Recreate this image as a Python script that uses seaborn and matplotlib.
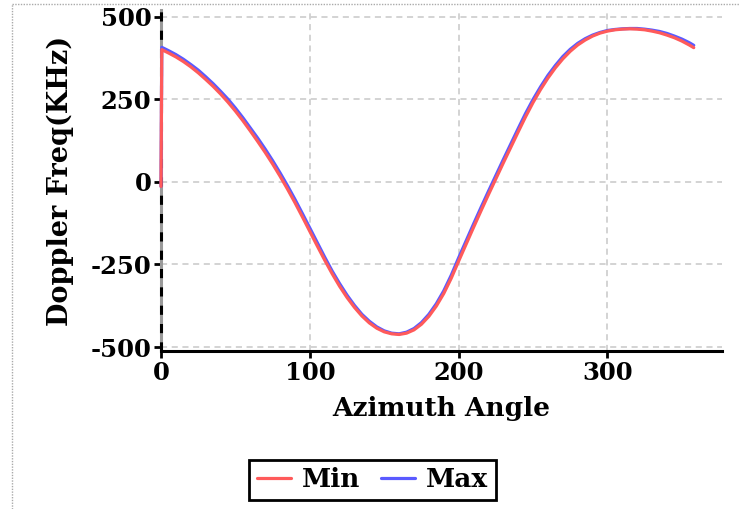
import pandas as pd
import matplotlib
matplotlib.use("Agg")
import matplotlib.pyplot as plt
import seaborn as sns
from matplotlib.lines import Line2D

# azimuth angle (deg) and doppler frequency (KHz)
azimuth = [0, 0.5, 5, 10, 15, 20, 25, 30, 35, 40, 45, 50, 55, 60, 65, 70, 75, 80,
           85, 90, 95, 100, 105, 110, 115, 120, 125, 130, 135, 140, 145, 150, 155,
           160, 165, 170, 175, 180, 185, 190, 195, 200, 205, 210, 215, 220, 225,
           230, 235, 240, 245, 250, 255, 260, 265, 270, 275, 280, 285, 290, 295,
           300, 305, 310, 315, 320, 325, 330, 335, 340, 345, 350, 355, 358]
freq_min = [-14, 400, 390, 378, 364, 348, 330, 310, 289, 266, 241, 214, 185, 154,
            122, 89, 54, 17, -22, -63, -106, -150, -194, -237, -278, -316, -350,
            -380, -406, -427, -443, -454, -460, -462, -458, -448, -431, -407, -376,
            -338, -292, -240, -189, -138, -88, -39, 9, 57, 104, 151, 197, 240, 279,
            314, 345, 372, 395, 414, 429, 441, 450, 456, 460, 462, 463, 462, 460,
            456, 451, 444, 436, 426, 414, 406]
freq_max = [-14, 407, 397, 385, 371, 355, 338, 318, 297, 274, 250, 223, 194, 163,
            132, 99, 64, 27, -12, -53, -96, -140, -184, -228, -270, -308, -343,
            -374, -401, -422, -439, -451, -458, -460, -455, -444, -426, -401, -369,
            -330, -283, -230, -179, -128, -78, -29, 19, 67, 114, 161, 207, 249, 287,
            322, 352, 379, 401, 419, 433, 444, 452, 458, 461, 463, 464, 464, 462,
            459, 455, 449, 441, 432, 421, 413]
x_ticks = [0, 100, 200, 300]
y_ticks = [-500, -250, 0, 250, 500]

df = pd.DataFrame({"az": azimuth, "Min": freq_min, "Max": freq_max})

sns.set_theme(style="whitegrid")
plt.rcParams["font.family"] = ["DejaVu Serif"]
plt.rcParams["font.weight"] = "bold"
plt.rcParams["axes.unicode_minus"] = False
plt.rcParams["text.color"] = "black"

red = "#ff5a5a"
blue = "#5a5aff"

fig = plt.figure(figsize=(7.4, 5.09), dpi=100)
ax = fig.add_axes([0.2176, 0.3104, 0.9757 - 0.2176, 0.9804 - 0.3104])
ax.set_facecolor("white")

sns.lineplot(data=df, x="az", y="Max", color=blue, lw=2.3, sort=False,
             estimator=None, ax=ax, clip_on=False, zorder=3)
sns.lineplot(data=df, x="az", y="Min", color=red, lw=2.3, sort=False,
             estimator=None, ax=ax, clip_on=False, zorder=3.1)

ax.set_xlim(0, 377)
ax.set_ylim(-512, 520)
ax.set_xticks(x_ticks)
ax.set_yticks(y_ticks)

# grid
ax.grid(True, color="#c8c8c8", linestyle=(0, (4, 3)), linewidth=1.1)

# spines: solid black bottom, grey left one with black dashes over it
for s in ["top", "right"]:
    ax.spines[s].set_visible(False)
ax.spines["bottom"].set_color("black")
ax.spines["bottom"].set_linewidth(2.2)
ax.spines["left"].set_color("#9a9a9a")
ax.spines["left"].set_linewidth(2.2)
ax.axvline(0, color="black", linestyle=(0, (3, 3)), linewidth=2.2, zorder=2.7,
           clip_on=False)

ax.tick_params(axis="both", which="both", colors="black", labelsize=17.5,
               length=5, width=2, direction="out", pad=2,
               left=True, bottom=True)
for lab in ax.get_xticklabels() + ax.get_yticklabels():
    lab.set_fontweight("bold")

ax.set_xlabel("Azimuth Angle", fontsize=19, fontweight="bold", color="black",
              labelpad=8)
ax.set_ylabel("Doppler Freq(KHz)", fontsize=19.5, fontweight="bold", color="black",
              labelpad=12)

handles = [Line2D([], [], color=red, lw=2.3), Line2D([], [], color=blue, lw=2.3)]
leg = fig.legend(handles, ["Min", "Max"], loc="center", ncol=2,
                 bbox_to_anchor=(0.503, 0.057), frameon=True, fancybox=False,
                 framealpha=1, edgecolor="black", prop={"size": 19, "weight": "bold"},
                 handlelength=1.3, handletextpad=0.4, columnspacing=0.8,
                 borderpad=0.3)
leg.get_frame().set_linewidth(2)
for t in leg.get_texts():
    t.set_color("black")

# dotted page border seen on the top and left edges
fig.add_artist(Line2D([12 / 740, 1], [1 - 4 / 509, 1 - 4 / 509],
                      transform=fig.transFigure, color="#aaaaaa", lw=1,
                      linestyle=(0, (1, 1))))
fig.add_artist(Line2D([12 / 740, 12 / 740], [0, 1 - 4 / 509],
                      transform=fig.transFigure, color="#aaaaaa", lw=1,
                      linestyle=(0, (1, 1))))

fig.savefig("out.png", dpi=100, facecolor="white")
